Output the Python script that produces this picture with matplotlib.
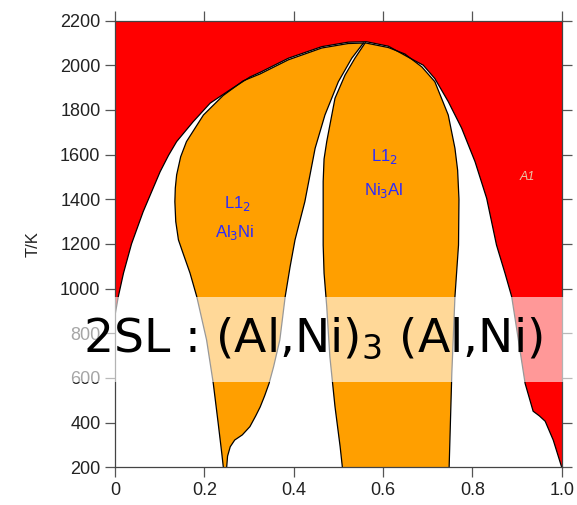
import numpy as np
import matplotlib
matplotlib.use('Agg')
import matplotlib.pyplot as plt
from matplotlib.patches import Rectangle

plt.rcParams['font.family'] = ['Liberation Sans', 'DejaVu Sans']

# A1 phase boundary (disordered fcc), x = mole fraction Ni
a1_x = [0.0, 0.0074, 0.019, 0.037, 0.063, 0.101, 0.120, 0.138, 0.175, 0.213, 0.257,
        0.302, 0.325, 0.388, 0.463, 0.522, 0.563, 0.612, 0.660, 0.690, 0.716,
        0.746, 0.776, 0.806, 0.832, 0.854, 0.873, 0.888, 0.903, 0.918, 0.936,
        0.950, 0.963, 0.981, 1.0]
a1_T = [880, 964, 1069, 1200, 1344, 1523, 1597, 1658, 1747, 1830, 1889,
        1947, 1968, 2031, 2083, 2103, 2105, 2085, 2032, 2000, 1940,
        1837, 1718, 1568, 1404, 1195, 1069, 964, 770, 576, 451,
        430, 406, 322, 200]

# L1_2 Al3Ni region, bottom-left going up then down the right side
al3ni_left_x = [0.2425, 0.239, 0.231, 0.220, 0.205, 0.183, 0.168, 0.152, 0.142, 0.136,
                0.134, 0.135, 0.138, 0.147, 0.160, 0.198, 0.242, 0.287, 0.325,
                0.388, 0.463, 0.522, 0.556]
al3ni_left_T = [200, 263, 397, 576, 770, 964, 1069, 1160, 1218, 1300,
                1389, 1450, 1509, 1590, 1658, 1777, 1864, 1930, 1961,
                2024, 2077, 2097, 2099]
al3ni_right_x = [0.250, 0.252, 0.258, 0.268, 0.285, 0.302, 0.315, 0.325, 0.335,
                 0.345, 0.355, 0.369, 0.381, 0.392, 0.403, 0.425, 0.448, 0.470,
                 0.500, 0.530, 0.556]
al3ni_right_T = [200, 250, 292, 322, 345, 382, 430, 470, 520,
                 576, 650, 770, 964, 1098, 1218, 1389, 1628, 1777,
                 1926, 2031, 2099]

# L1_2 Ni3Al region
ni3al_left_x = [0.509, 0.504, 0.4925, 0.481, 0.474, 0.468, 0.466, 0.466, 0.468,
                0.474, 0.4925, 0.515, 0.537, 0.560]
ni3al_left_T = [200, 292, 471, 695, 919, 1069, 1195, 1479, 1580,
                1658, 1852, 1956, 2031, 2100]
ni3al_right_x = [0.560, 0.612, 0.649, 0.687, 0.716, 0.746, 0.761, 0.767, 0.770,
                 0.769, 0.761, 0.754, 0.748]
ni3al_right_T = [2100, 2079, 2050, 1992, 1926, 1777, 1628, 1530, 1400,
                 1195, 964, 621, 200]

fig = plt.figure(figsize=(5.77, 5.05), dpi=100)
ax = fig.add_axes([0.1993, 0.0747, 0.7742, 0.8847])
ax.set_xlim(0, 1)
ax.set_ylim(200, 2200)
ax.set_facecolor('#ff0000')

ax.fill(a1_x + [1.0, 0.0], a1_T + [200, 200], color='white', lw=0)
ax.fill(al3ni_left_x + al3ni_right_x[::-1], al3ni_left_T + al3ni_right_T[::-1],
        color='#ff9f00', lw=0)
ax.fill(ni3al_left_x + ni3al_right_x, ni3al_left_T + ni3al_right_T,
        color='#ff9f00', lw=0)

for xs, ts in [(a1_x, a1_T), (al3ni_left_x, al3ni_left_T),
               (al3ni_right_x, al3ni_right_T), (ni3al_left_x, ni3al_left_T),
               (ni3al_right_x, ni3al_right_T)]:
    ax.plot(xs, ts, color='black', lw=0.9, solid_joinstyle='round')

lab = dict(color='#2a2aff', fontsize=12, ha='center', va='center')
ax.text(0.275, 1380, 'L1$_2$', **lab)
ax.text(0.269, 1250, 'Al$_3$Ni', **lab)
ax.text(0.604, 1590, 'L1$_2$', **lab)
ax.text(0.601, 1440, 'Ni$_3$Al', **lab)
ax.text(0.923, 1500, 'A1', color='#e8c8a8', fontsize=9, ha='center', va='center',
        style='italic')

ax.set_xticks([0, 0.2, 0.4, 0.6, 0.8, 1.0])
ax.set_xticklabels(['0', '0.2', '0.4', '0.6', '0.8', '1.0'])
ax.set_yticks(np.arange(200, 2201, 200))
ax.tick_params(direction='out', length=7, width=0.9, color='#555555',
               labelsize=13, top=True, right=True, labelcolor='#222222')
for s in ax.spines.values():
    s.set_color('#444444')
    s.set_linewidth(0.9)
ax.set_ylabel('T/K', fontsize=12, color='#222222', labelpad=14)

# translucent banner with the sublattice model
fig.patches.append(Rectangle((0, 0.2436), 1, 0.169, transform=fig.transFigure,
                             facecolor='white', alpha=0.6, lw=0, zorder=5))
fig.text(0.543, 0.330, '2SL : (Al,Ni)$_3$ (Al,Ni)', fontsize=34,
         family='DejaVu Sans', ha='center', va='center', zorder=6)

fig.savefig('out.png', dpi=100)
